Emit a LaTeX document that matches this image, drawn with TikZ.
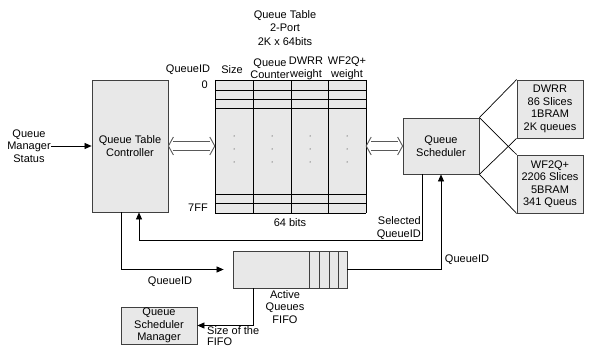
\documentclass[tikz,border=0pt]{standalone}
\usepackage{fontspec}
\setmainfont{Liberation Sans}
\usetikzlibrary{arrows.meta}

\begin{document}
\begin{tikzpicture}[x=1pt, y=-1pt, >={Triangle[length=7pt,width=6pt]},
    every node/.style={font=\fontsize{11}{12.5}\selectfont, inner sep=0pt},
    box/.style={draw=black!75, fill=black!9, line width=0.8pt, align=center},
    lbl/.style={align=center},
    conn/.style={->, line width=0.7pt},
    dbl/.style={draw=black!65, line width=0.9pt, line join=miter}]
    \useasboundingbox (0,0) rectangle (596,347);

    % queue table
    \node[lbl, font=\fontsize{11}{13.5}\selectfont] (qttitle) at (285,28) {Queue Table\\2-Port\\2K x 64bits};
    \node[fill=black!9, minimum width=151pt, minimum height=133pt] (tab) at (290.5,146.5) {};
    \foreach \x in {215,253,291,328,366}
        \draw[line width=0.8pt] (\x,80) -- (\x,213);
    \foreach \y in {80,90,99,108,194,203,213}
        \draw[line width=0.8pt] (215,\y) -- (366,\y);
    \foreach \x in {234,272,310,347}
        \foreach \y in {136,149,162}
            \fill (\x,\y) circle (0.5pt);
    \node (hid) at (188,70) {QueueID};
    \node (hsize) at (232,70) {Size};
    \node[lbl] (hcnt) at (270,68.5) {Queue\\Counter};
    \node[lbl] (hdwrr) at (306,68.5) {DWRR\\weight};
    \node[lbl] (hwf) at (347,68.5) {WF2Q+\\weight};
    \node[anchor=east] (row0) at (208,85) {0};
    \node[anchor=east] (rowlast) at (208,208) {7FF};
    \node (bits) at (290,223) {64 bits};

    % blocks
    \node[box, minimum width=76pt, minimum height=132pt] (qtc) at (130,146) {Queue Table\\Controller};
    \node[box, minimum width=76pt, minimum height=56pt] (qs) at (441,146) {Queue\\Scheduler};
    \node[box, minimum width=66pt, minimum height=58pt] (dwrr) at (550,109) {DWRR\\86 Slices\\1BRAM\\2K queues};
    \node[box, minimum width=66pt, minimum height=58pt] (wf) at (550,184) {WF2Q+\\2206 Slices\\5BRAM\\341 Queus};
    \node[box, minimum width=114pt, minimum height=37pt] (fifo) at (290,269.5) {};
    \foreach \x in {309,319,329,338}
        \draw[draw=black!75, line width=0.8pt] (\x,251) -- (\x,288);
    \node[box, minimum width=76pt, minimum height=37pt] (qsm) at (159,325.5) {Queue\\Scheduler\\Manager};
    \node[lbl] (qms) at (29,146) {Queue\\Manager\\Status};

    % connections
    \draw[conn] (qms.east) -- (qms.east -| qtc.west);
    \coordinate (dl1) at (qtc.east);
    \coordinate (dr1) at (qtc.east -| tab.west);
    \coordinate (dl2) at (tab.east |- qs.west);
    \coordinate (dr2) at (qs.west);
    \foreach \a/\b in {dl1/dr1, dl2/dr2} {
        \draw[dbl] ([shift={(5,-4.5)}]\a) -- ([shift={(-5,-4.5)}]\b);
        \draw[dbl] ([shift={(5,4.5)}]\a) -- ([shift={(-5,4.5)}]\b);
        \draw[dbl] ([shift={(5,-9)}]\a) -- (\a) -- ([shift={(5,9)}]\a);
        \draw[dbl] ([shift={(-5,-9)}]\b) -- (\b) -- ([shift={(-5,9)}]\b);
    }
    \draw[line width=0.7pt] (qs.north east) -- (dwrr.north west);
    \draw[line width=0.7pt] (qs.north east) -- (wf.north west);
    \draw[line width=0.7pt] (qs.south east) -- (dwrr.south west);
    \draw[line width=0.7pt] (qs.south east) -- (wf.south west);

    \coordinate (sel) at (139,240);
    \draw[conn] ([xshift=-19pt]qs.south) |- (sel) -- (sel |- qtc.south);
    \node[lbl, anchor=east, align=right] (sellbl) at (421,228) {Selected\\QueueID};

    \draw[conn, shorten >=9pt] ([xshift=-9pt]qtc.south) |- (fifo.west);
    \node (qidin) at (170,282) {QueueID};

    \draw[conn] (fifo.east) -| (qs.south);
    \node (qidout) at (467,260) {QueueID};

    \node[lbl] (fifolbl) at (285,307) {Active\\Queues\\FIFO};
    \draw[conn] ([xshift=-37pt]fifo.south) |- (qsm.east);
    \node[lbl, anchor=north west, align=left, font=\fontsize{11}{11.5}\selectfont] (sizelbl) at (207,326) {Size of the\\FIFO};
\end{tikzpicture}
\end{document}
